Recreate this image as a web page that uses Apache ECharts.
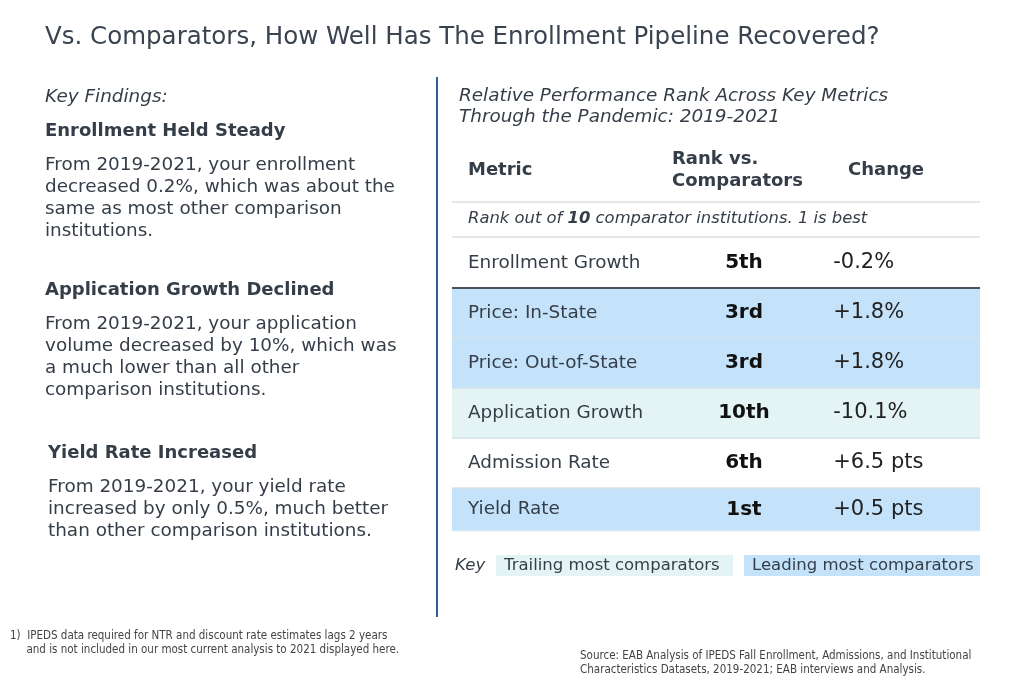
<!DOCTYPE html>
<html>
<head>
<meta charset="utf-8">
<script src="https://cdn.jsdelivr.net/npm/echarts@6/dist/echarts.min.js"></script>
<style>
  html, body { margin: 0; padding: 0; background: #fff; }
  #chart { width: 1024px; height: 683px; }
</style>
</head>
<body>
<div id="chart"></div>
<script>
// table data
var metrics = ['Enrollment Growth', 'Price: In-State', 'Price: Out-of-State', 'Application Growth', 'Admission Rate', 'Yield Rate'];
var ranks = ['5th', '3rd', '3rd', '10th', '6th', '1st'];
var changes = ['-0.2%', '+1.8%', '+1.8%', '-10.1%', '+6.5 pts', '+0.5 pts'];
var rowStatus = ['none', 'lead', 'lead', 'trail', 'none', 'lead'];

var FONT = '"DejaVu Sans", Verdana, sans-serif';
var NARROW = '"Liberation Sans Narrow", "DejaVu Sans Condensed", sans-serif';
var TXT = '#353e48';
var LEAD = '#c4e3fb';
var TRAIL = '#e4f3f4';

var chart = echarts.init(document.getElementById('chart'));

function renderRow(params, api) {
    var idx = api.value(0);
    var p = api.coord([0, idx]);
    var size = api.size([1, 1]);
    var w = size[0], h = size[1];
    var x0 = p[0], top = p[1] - h / 2;
    // last row is a bit shorter in the original
    var rh = idx === metrics.length - 1 ? h * 0.86 : h;
    var cy = top + rh / 2;
    var kids = [];
    if (rowStatus[idx] === 'lead' || rowStatus[idx] === 'trail') {
        kids.push({
            type: 'rect',
            shape: { x: x0, y: top, width: w, height: rh },
            style: { fill: rowStatus[idx] === 'lead' ? LEAD : TRAIL }
        });
    }
    if (idx > 0) {
        kids.push({
            type: 'line',
            shape: { x1: x0, y1: top, x2: x0 + w, y2: top },
            style: { stroke: idx === 1 ? '#4a535c' : '#d6e3ea', lineWidth: idx === 1 ? 2 : 1.5 }
        });
    }
    if (idx === metrics.length - 1) {
        kids.push({
            type: 'line',
            shape: { x1: x0, y1: top + rh, x2: x0 + w, y2: top + rh },
            style: { stroke: '#e6ecef', lineWidth: 1 }
        });
    }
    kids.push({
        type: 'text',
        style: { x: x0 + 16, y: cy, text: metrics[idx], font: '18.4px ' + FONT, fill: TXT, verticalAlign: 'middle' }
    });
    kids.push({
        type: 'text',
        style: { x: api.coord([0.553, idx])[0], y: cy, text: ranks[idx], font: 'bold 20px ' + FONT, fill: '#111', align: 'center', verticalAlign: 'middle' }
    });
    kids.push({
        type: 'text',
        style: { x: api.coord([0.722, idx])[0], y: cy, text: changes[idx], font: '21px ' + FONT, fill: '#222', verticalAlign: 'middle' }
    });
    return { type: 'group', children: kids };
}

function txt(x, y, text, font, extra) {
    var s = { x: x, y: y, text: text, font: font, fill: TXT, verticalAlign: 'middle', lineHeight: 22 };
    if (extra) for (var k in extra) s[k] = extra[k];
    return { type: 'text', style: s };
}

var option = {
    animation: false,
    title: {
        text: 'Vs. Comparators, How Well Has The Enrollment Pipeline Recovered?',
        left: 40, top: 20,
        textStyle: { fontFamily: FONT, fontSize: 24.5, fontWeight: 'normal', color: '#3a4450' }
    },
    grid: { left: 452, top: 238, width: 528, height: 300 },
    xAxis: { type: 'value', min: 0, max: 1, show: false },
    yAxis: { type: 'category', data: metrics, inverse: true, show: false },
    series: [{
        type: 'custom',
        renderItem: renderRow,
        encode: { y: 0 },
        data: metrics.map(function (m, i) { return [i]; })
    }],
    graphic: [
        { type: 'line', shape: { x1: 437, y1: 77, x2: 437, y2: 617 }, style: { stroke: '#2d6197', lineWidth: 2 } },
        // left column
        txt(45, 97, 'Key Findings:', 'italic 18.4px ' + FONT),
        txt(45, 131, 'Enrollment Held Steady', 'bold 18px ' + FONT),
        txt(45, 198, 'From 2019-2021, your enrollment\ndecreased 0.2%, which was about the\nsame as most other comparison\ninstitutions.', '18.4px ' + FONT),
        txt(45, 290, 'Application Growth Declined', 'bold 18px ' + FONT),
        txt(45, 357, 'From 2019-2021, your application\nvolume decreased by 10%, which was\na much lower than all other\ncomparison institutions.', '18.4px ' + FONT),
        txt(48, 453, 'Yield Rate Increased', 'bold 18px ' + FONT),
        txt(48, 509, 'From 2019-2021, your yield rate\nincreased by only 0.5%, much better\nthan other comparison institutions.', '18.4px ' + FONT),
        // right column header
        txt(459, 106.5, 'Relative Performance Rank Across Key Metrics\nThrough the Pandemic: 2019-2021', 'italic 18.4px ' + FONT, { lineHeight: 21 }),
        txt(468, 170, 'Metric', 'bold 18px ' + FONT),
        txt(672, 170, 'Rank vs.\nComparators', 'bold 18px ' + FONT),
        txt(848, 170, 'Change', 'bold 18px ' + FONT),
        { type: 'line', shape: { x1: 452, y1: 202, x2: 980, y2: 202 }, style: { stroke: '#e3e8ec', lineWidth: 2 } },
        {
            type: 'text',
            style: {
                x: 468, y: 219, verticalAlign: 'middle',
                text: '{i|Rank out of }{b|10}{i| comparator institutions. 1 is best}',
                rich: {
                    i: { font: 'italic 16.4px ' + FONT, fill: TXT },
                    b: { font: 'italic bold 16.4px ' + FONT, fill: TXT }
                }
            }
        },
        { type: 'line', shape: { x1: 452, y1: 237, x2: 980, y2: 237 }, style: { stroke: '#e3e8ec', lineWidth: 2 } },
        // key
        txt(455, 566, 'Key', 'italic 16.5px ' + FONT),
        { type: 'rect', shape: { x: 496, y: 555, width: 237, height: 21 }, style: { fill: TRAIL } },
        txt(504, 566, 'Trailing most comparators', '16.5px ' + FONT),
        { type: 'rect', shape: { x: 744, y: 555, width: 236, height: 21 }, style: { fill: LEAD } },
        txt(752, 566, 'Leading most comparators', '16.5px ' + FONT),
        // footnotes
        txt(10, 643, '1)  IPEDS data required for NTR and discount rate estimates lags 2 years\n     and is not included in our most current analysis to 2021 displayed here.',
            '11.5px ' + NARROW, { fill: '#444', lineHeight: 14 }),
        txt(580, 663, 'Source: EAB Analysis of IPEDS Fall Enrollment, Admissions, and Institutional\nCharacteristics Datasets, 2019-2021; EAB interviews and Analysis.',
            '11.5px ' + NARROW, { fill: '#444', lineHeight: 14 })
    ]
};

chart.setOption(option);
</script>
</body>
</html>
